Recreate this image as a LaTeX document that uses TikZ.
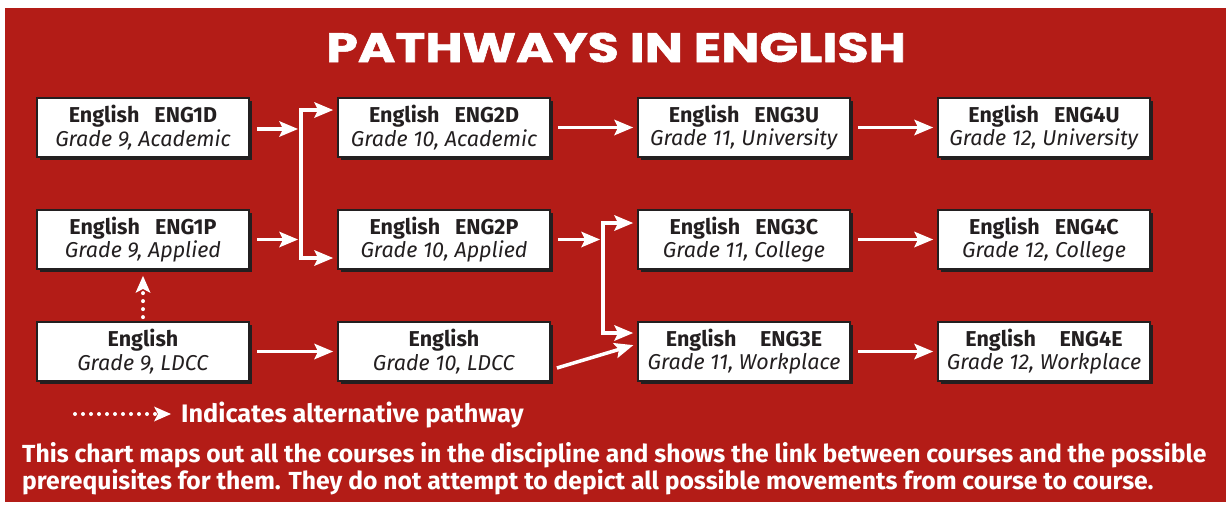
\documentclass[tikz,border=0pt]{standalone}
\usepackage{fontspec}
\setmainfont{Fira Sans}
\newfontfamily\titlefont{Poppins}[BoldFeatures={FakeBold=1.2}]
\usetikzlibrary{arrows.meta,shadows}
\definecolor{bgred}{RGB}{179,28,23}
\definecolor{dark}{RGB}{35,31,32}
\tikzset{
  course/.style={draw=dark, line width=1.8pt, fill=white, minimum width=212pt, minimum height=59pt,
    inner sep=0pt, align=center, text=dark, font=\fontsize{21.5}{23.5}\selectfont,
    drop shadow={shadow xshift=3pt, shadow yshift=-3pt, fill=dark, opacity=1}},
  arr/.style={draw=white, line width=3.5pt, -{Stealth[length=19pt,width=16pt,inset=4pt,line width=0pt]}},
  wline/.style={draw=white, line width=3.5pt},
  dotarr/.style={draw=white, line width=4pt, line cap=round, dash pattern=on 0pt off 8pt,
    -{Stealth[length=17pt,width=15pt,inset=4pt,line width=0pt]}},
  whitetext/.style={text=white, font=\bfseries\fontsize{24.7}{26}\selectfont, inner sep=0pt}
}
\newcommand{\crs}[2]{\textbf{#1}\\\textit{#2}}
\begin{document}
\begin{tikzpicture}[x=1pt,y=-1pt]
\useasboundingbox (0,0) rectangle (1226,507);
\fill[bgred] (5,8) rectangle (1226,502);
\node[text=white, inner sep=0pt, anchor=base, font=\titlefont\bfseries\fontsize{41}{41}\selectfont] (title) at (616,62) {\scalebox{1.24}[1]{PATHWAYS IN ENGLISH}};
% courses
\node[course] (n1D) at (143,127.5) {\crs{English\hspace{0.7em}ENG1D}{Grade 9, Academic}};
\node[course] (n2D) at (444,127.5) {\crs{English\hspace{0.7em}ENG2D}{Grade 10, Academic}};
\node[course] (n3U) at (744,127.5) {\crs{English\hspace{0.7em}ENG3U}{Grade 11, University}};
\node[course] (n4U) at (1044,127.5) {\crs{English\hspace{0.7em}ENG4U}{Grade 12, University}};
\node[course] (n1P) at (143,239.5) {\crs{English\hspace{0.7em}ENG1P}{Grade 9, Applied}};
\node[course] (n2P) at (444,239.5) {\crs{English\hspace{0.7em}ENG2P}{Grade 10, Applied}};
\node[course] (n3C) at (744,239.5) {\crs{English\hspace{0.7em}ENG3C}{Grade 11, College}};
\node[course] (n4C) at (1044,239.5) {\crs{English\hspace{0.7em}ENG4C}{Grade 12, College}};
\node[course] (n1L) at (143,351.5) {\crs{English}{Grade 9, LDCC}};
\node[course] (n2L) at (444,351.5) {\crs{English}{Grade 10, LDCC}};
\node[course] (n3E) at (744,351.5) {\crs{English\hspace{1.1em}ENG3E}{Grade 11, Workplace}};
\node[course] (n4E) at (1044,351.5) {\crs{English\hspace{1.1em}ENG4E}{Grade 12, Workplace}};
% junctions
\coordinate (j1top) at (301,110);
\coordinate (j1bot) at (301,258);
\coordinate (j2top) at (603,223);
\coordinate (j2bot) at (603,333);
\draw[wline] ([yshift=1.75pt]j1top) -- ([yshift=-1.75pt]j1bot);
\draw[wline] ([yshift=1.75pt]j2top) -- ([yshift=-1.75pt]j2bot);
\draw[arr, shorten <=7pt, shorten >=3pt] ([yshift=-1.5pt]n1D.east) -- ([yshift=-1.5pt]n1D.east -| j1top);
\draw[arr, shorten <=7pt, shorten >=3pt] (n1P.east) -- (n1P.east -| j1top);
\draw[arr, shorten <=-1.75pt, shorten >=4pt] (j1top) -- (j1top -| n2D.west);
\draw[arr, shorten <=-1.75pt, shorten >=4pt] (j1bot) -- (j1bot -| n2P.west);
\draw[arr, shorten <=7pt, shorten >=3pt] (n2P.east) -- (n2P.east -| j2top);
\draw[arr, shorten <=-1.75pt, shorten >=4pt] (j2top) -- (j2top -| n3C.west);
\draw[arr, shorten <=-1.75pt, shorten >=4pt] (j2bot) -- (j2bot -| n3E.west);
\draw[arr, shorten >=4pt] ([xshift=6pt,yshift=-16.5pt]n2L.east) -- ([yshift=7.5pt]n3E.west);
\draw[arr, shorten <=7pt, shorten >=4pt] (n1L.east) -- (n2L.west);
\draw[arr, shorten <=7pt, shorten >=4pt] (n2D.east) -- (n3U.west);
\draw[arr, shorten <=7pt, shorten >=4pt] (n3U.east) -- (n4U.west);
\draw[arr, shorten <=7pt, shorten >=4pt] (n3C.east) -- (n4C.west);
\draw[arr, shorten <=7pt, shorten >=4pt] (n3E.east) -- (n4E.west);
\draw[dotarr, shorten <=4pt, shorten >=6pt] (n1L.north) -- (n1P.south);
% legend
\coordinate (legA) at (75,414);
\coordinate (legB) at (171,414);
\draw[dotarr] (legA) -- (legB);
\node[whitetext, anchor=base west, font=\bfseries\fontsize{25.3}{26}\selectfont] (legtext) at (181,422) {Indicates alternative pathway};
% footnote
\node[whitetext, anchor=base west] (foot1) at (22,462) {This chart maps out all the courses in the discipline and shows the link between courses and the possible};
\node[whitetext, anchor=base west] (foot2) at (22,489) {prerequisites for them. They do not attempt to depict all possible movements from course to course.};
\end{tikzpicture}
\end{document}
